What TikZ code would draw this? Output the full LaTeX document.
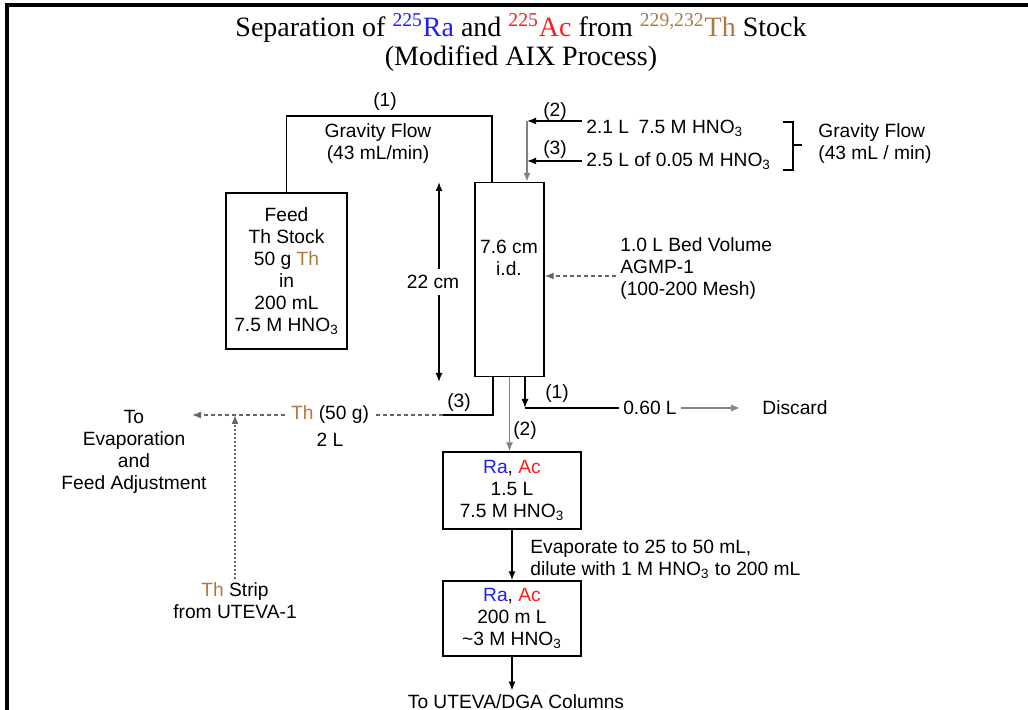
\documentclass[tikz,border=0pt]{standalone}
\usepackage{fontspec}
\setmainfont{Liberation Sans}
\newfontfamily\titlefont{Liberation Serif}
\usetikzlibrary{arrows.meta, positioning}
\definecolor{clrra}{RGB}{30,30,240}
\definecolor{clrac}{RGB}{250,30,30}
\definecolor{clrth}{RGB}{176,120,64}
\definecolor{clrgray}{RGB}{130,130,130}

\begin{document}
\begin{tikzpicture}[
        x=0.5pt, y=-0.5pt,
        >={Latex[length=4.5pt,width=3.5pt]},
        every node/.style={font=\fontsize{9.6}{11}\selectfont},
        frame line/.style={line width=1.6pt, black},
        flow line/.style={line width=0.7pt, black},
        gray line/.style={line width=0.7pt, clrgray},
        dash line/.style={line width=0.7pt, black!60, dash pattern=on 2pt off 1.5pt},
        dot line/.style={line width=0.7pt, black!60, dash pattern=on 1pt off 1pt},
        vessel box/.style={draw, line width=0.7pt, align=center, inner sep=0pt},
        plain label/.style={align=center, inner sep=2pt},
        step label/.style={inner sep=1pt},
        title label/.style={font=\titlefont\fontsize{14}{15.5}\selectfont, align=center},
    ]

    \useasboundingbox (0,0) rectangle (1028,710);

    % Frame
    \draw[frame line] (7,710) -- (7,5) -- (1028,5);

    % Title
    \node[title label] (title) at (521,28) {Separation of {\color{clrra}\textsuperscript{225}Ra} and {\color{clrac}\textsuperscript{225}Ac} from {\color{clrth}\textsuperscript{229,232}Th} Stock};
    \node[title label] (subtitle) at (521,59) {(Modified AIX Process)};

    % Feed tank and column
    \node[vessel box, minimum width=60.5pt, minimum height=78pt] (feed) at (286.5,271) {Feed\\Th Stock\\50 g {\color{clrth}Th}\\in\\200 mL\\7.5 M HNO\textsubscript{3}};
    \node[vessel box, minimum width=34.5pt, minimum height=97pt] (column) at (509.5,279.5) {};
    \node[plain label] (colsize) at (509,258) {7.6 cm\\i.d.};

    % Load line (1)
    \coordinate (loadL) at (286.5,116);
    \coordinate (loadR) at (492,116);
    \draw[flow line] (feed.north) -- (loadL) -- (loadR) -- (loadR |- column.north);
    \node[step label] (step1a) at (385,102) {(1)};
    \node[plain label] (loadflow) at (378,144) {Gravity Flow\\(43 mL/min)};

    % Inlets (2) and (3)
    \coordinate (inlet2) at (527,121);
    \coordinate (inlet3) at (527,161);
    \node[anchor=west, inner sep=2pt] (acid2) at (582,128) {2.1 L\enspace 7.5 M HNO\textsubscript{3}};
    \node[anchor=west, inner sep=2pt] (acid3) at (582,161) {2.5 L of 0.05 M HNO\textsubscript{3}};
    \draw[flow line, ->] (acid2.west |- inlet2) -- (inlet2);
    \draw[flow line, ->] (acid3.west |- inlet3) -- (inlet3);
    \draw[gray line, ->] (inlet2) -- (inlet2 |- column.north);
    \node[step label] (step2a) at (555,112) {(2)};
    \node[step label] (step3a) at (555,150) {(3)};

    % Bracket
    \draw[flow line] (783,122) -- (793,122) -- (793,170) -- (783,170);
    \draw[flow line] (793,145) -- (802,145);
    \node[plain label, align=left, anchor=west] (inletflow) at (814,144) {Gravity Flow\\(43 mL / min)};

    % Bed height
    \coordinate (dimtop) at (439,182);
    \coordinate (dimbot) at (439,382);
    \node[plain label, inner sep=3pt] (bedheight) at (433,282) {22 cm};
    \draw[flow line, ->] (dimtop |- bedheight.north) -- (dimtop);
    \draw[flow line, ->] (dimbot |- bedheight.south) -- (dimbot);

    % Resin
    \node[plain label, align=left, anchor=west] (resin) at (616,269) {1.0 L Bed Volume\\AGMP-1\\(100-200 Mesh)};
    \draw[dash line, ->] ([yshift=-3.5pt]resin.west) -- ([yshift=-3.5pt]resin.west -| column.east);

    % Product boxes
    \node[vessel box, minimum width=69pt, minimum height=38.5pt] (rabox) at (512,490.5) {{\color{clrra}Ra}, {\color{clrac}Ac}\\1.5 L\\7.5 M HNO\textsubscript{3}};
    \node[vessel box, minimum width=69pt, minimum height=37.5pt] (feedbox) at (512,618.5) {{\color{clrra}Ra}, {\color{clrac}Ac}\\200 m L\\\textasciitilde3 M HNO\textsubscript{3}};

    % Outlets
    \coordinate (out3) at (493,415);
    \coordinate (out3end) at (443,415);
    \coordinate (out1) at (525,408);
    \draw[flow line] (out3 |- column.south) -- (out3) -- (out3end);
    \draw[flow line, ->] (out1 |- column.south) -- (out1);
    \draw[gray line, ->] (column.south) -- (column.south |- rabox.north);
    \node[step label] (step1b) at (557,394) {(1)};
    \node[step label] (step2b) at (525,431) {(2)};
    \node[step label] (step3b) at (459,403) {(3)};

    \node[plain label] (waste) at (650,408) {0.60 L};
    \node[plain label] (discard) at (795,408) {Discard};
    \draw[flow line] (out1) -- (waste.west);
    \draw[gray line, ->, shorten >=9pt] (waste.east) -- (discard.west);

    % Thorium fraction
    \node[plain label, inner sep=3pt] (thload) at (330,415) {{\color{clrth}Th} (50 g)};
    \node[plain label] (thvol) at (330,440) {2 L};
    \coordinate (evaptip) at (192,415);
    \node[plain label] (evap) at (134,452) {To\\Evaporation\\and\\Feed Adjustment};
    \draw[dash line] (out3end) -- (thload.east);
    \draw[dash line, ->] (thload.west) -- (evaptip);
    \node[plain label] (strip) at (235,601) {{\color{clrth}Th} Strip\\from UTEVA-1};
    \draw[dot line, ->] (strip.north) -- (strip.north |- evaptip);

    % To next columns
    \draw[flow line, ->] (rabox) -- (feedbox);
    \node[plain label, align=left, anchor=west] (evapnote) at (526,559) {Evaporate to 25 to 50 mL,\\dilute with 1 M HNO\textsubscript{3} to 200 mL};
    \node[plain label] (uteva) at (516,702) {To UTEVA/DGA Columns};
    \draw[flow line, ->] (feedbox.south) -- (feedbox.south |- uteva.north);

\end{tikzpicture}
\end{document}
